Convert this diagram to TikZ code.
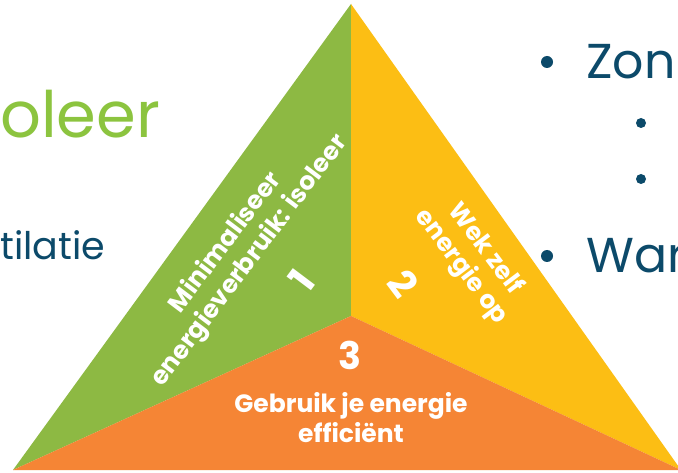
\documentclass[tikz,border=0pt]{standalone}
\usepackage{fontspec}
\setmainfont{Poppins}
\definecolor{tgreen}{HTML}{8DB943}
\definecolor{tyellow}{HTML}{FCBE14}
\definecolor{torange}{HTML}{F58535}
\definecolor{tblue}{HTML}{0C4A6A}
\definecolor{lgreen}{HTML}{8CC43F}
\begin{document}
\begin{tikzpicture}[x=1pt,y=-1pt,
  lbl/.style={text=white,font=\bfseries\fontsize{25}{30}\selectfont,align=center,inner sep=0pt},
  num/.style={text=white,font=\bfseries\fontsize{38}{40}\selectfont,inner sep=0pt},
  side/.style={text=tblue,inner sep=0pt,anchor=base west},
  dot/.style={circle,fill=tblue,inner sep=0pt}]
\useasboundingbox[fill=white] (0,0) rectangle (678,473);
\coordinate (A) at (351,4);
\coordinate (L) at (13,470);
\coordinate (R) at (681,470);
\coordinate (C) at (351,316);
\fill[tgreen] (A) -- (C) -- (L) -- cycle;
\fill[tyellow] (A) -- (R) -- (C) -- cycle;
\fill[torange] (C) -- (L) -- (R) -- cycle;
% side texts
\node[side,text=lgreen,font=\fontsize{64}{70}\selectfont] (t1) at (0,138) {oleer};
\node[side,font=\fontsize{38}{42}\selectfont] (t2) at (0,260) {tilatie};
\node[dot,minimum size=12pt] (b1) at (547,62) {};
\node[side,font=\fontsize{49}{54}\selectfont] (t3) at (586,79) {Zonn};
\node[dot,minimum size=10pt] (b2) at (641,123) {};
\node[dot,minimum size=10pt] (b3) at (641,179) {};
\node[dot,minimum size=12pt] (b4) at (547,256) {};
\node[side,font=\fontsize{49}{54}\selectfont] (t4) at (586,273) {Warm};
% triangle labels
\node[lbl,rotate=53] (m1) at (238,252) {Minimaliseer\\energieverbruik: isoleer};
\node[num,rotate=53] (n1) at (302,280) {1};
\node[lbl,rotate=-53] (m2) at (473,258) {Wek zelf\\energie op};
\node[num,rotate=-53] (n2) at (403,284) {2};
\node[num] (n3) at (350,355) {3};
\node[lbl] (m3) at (351,418) {Gebruik je energie\\efficiënt};
\end{tikzpicture}
\end{document}
